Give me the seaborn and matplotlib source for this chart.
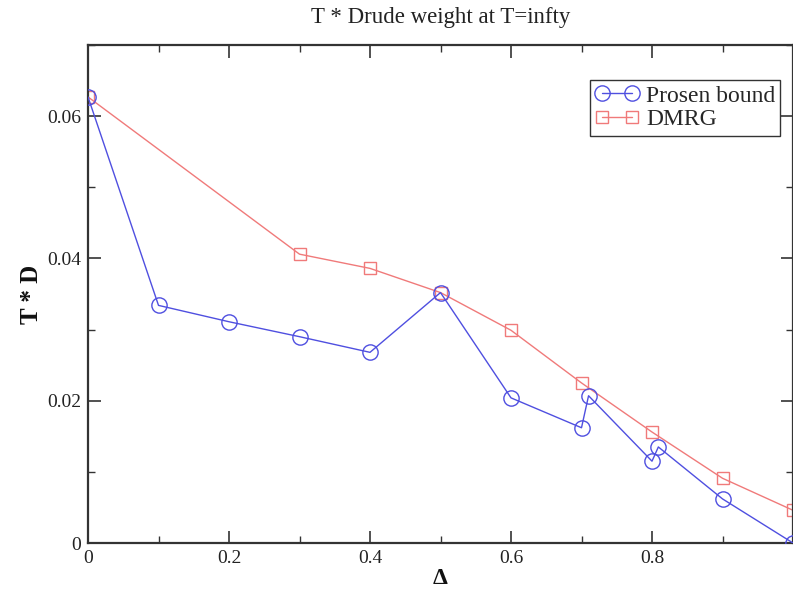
import numpy as np
import pandas as pd
import matplotlib
matplotlib.use("Agg")
import matplotlib.pyplot as plt
import seaborn as sns
from matplotlib.ticker import MultipleLocator

# Data
prosen_delta = [0.0, 0.1, 0.2, 0.3, 0.4, 0.5, 0.6, 0.7, 0.71, 0.8, 0.809, 0.9, 1.0]
prosen_td = [0.0627, 0.0334, 0.0311, 0.0290, 0.0268, 0.0352, 0.0204, 0.0162, 0.0207,
             0.0115, 0.0135, 0.0062, 0.0]
dmrg_delta = [0.0, 0.3, 0.4, 0.5, 0.6, 0.7, 0.8, 0.9, 1.0]
dmrg_td = [0.0627, 0.0406, 0.0386, 0.0352, 0.0299, 0.0225, 0.0156, 0.0091, 0.0046]

title = "T * Drude weight at T=infty"
xlabel = "Δ"
ylabel = "T * D"

sns.set_style("white")
plt.rcParams['font.family'] = ['Liberation Serif', 'DejaVu Serif']
plt.rcParams['mathtext.fontset'] = 'stix'

fig = plt.figure(figsize=(7.93, 5.98), dpi=100)
ax = fig.add_axes([88/793, 55/598, 705/793, 498/598])

blue = '#4f4fe0'
red = '#f07a7a'

df_p = pd.DataFrame({"x": prosen_delta, "y": prosen_td})
df_d = pd.DataFrame({"x": dmrg_delta, "y": dmrg_td})

sns.lineplot(data=df_p, x="x", y="y", ax=ax, sort=False, errorbar=None,
             color=blue, linewidth=1.0, marker='o', markersize=11,
             markerfacecolor='none', markeredgecolor=blue, markeredgewidth=1.0,
             label="Prosen bound", zorder=3)
sns.lineplot(data=df_d, x="x", y="y", ax=ax, sort=False, errorbar=None,
             color=red, linewidth=1.0, marker='s', markersize=9,
             markerfacecolor='none', markeredgecolor=red, markeredgewidth=1.0,
             label="DMRG", zorder=2)

ax.set_xlim(0, 1.0)
ax.set_ylim(0, 0.07)
ax.xaxis.set_minor_locator(MultipleLocator(0.1))
ax.yaxis.set_minor_locator(MultipleLocator(0.01))
ax.set_xticks([0, 0.2, 0.4, 0.6, 0.8])
ax.set_xticklabels(["0", "0.2", "0.4", "0.6", "0.8"])
ax.set_yticks([0, 0.02, 0.04, 0.06])
ax.set_yticklabels(["0", "0.02", "0.04", "0.06"])

ax.tick_params(which='both', direction='in', top=True, right=True,
               bottom=True, left=True, colors='#333333', labelcolor='#222222')
ax.tick_params(which='major', length=9, width=1.2, labelsize=14, pad=5)
ax.tick_params(which='minor', length=5, width=1.0)

for s in ax.spines.values():
    s.set_visible(True)
    s.set_color('#333333')
    s.set_linewidth(1.6)

ax.set_title(title, fontsize=16.5, color='#222222', pad=16)
ax.set_xlabel(xlabel, fontsize=17, fontweight='bold', labelpad=1, color='#111111')
ax.set_ylabel(ylabel, fontsize=18, fontweight='bold', labelpad=3, color='#111111')

leg = ax.legend(loc='upper right', bbox_to_anchor=(0.982, 0.93), fontsize=17,
                frameon=True, fancybox=False, shadow=False, numpoints=2,
                handlelength=1.85, handletextpad=0.3, borderpad=0.22,
                labelspacing=0.1, borderaxespad=0.0)
leg.get_frame().set_edgecolor('#333333')
leg.get_frame().set_linewidth(1.0)
leg.get_frame().set_alpha(1.0)

fig.savefig("out.png", dpi=100)
